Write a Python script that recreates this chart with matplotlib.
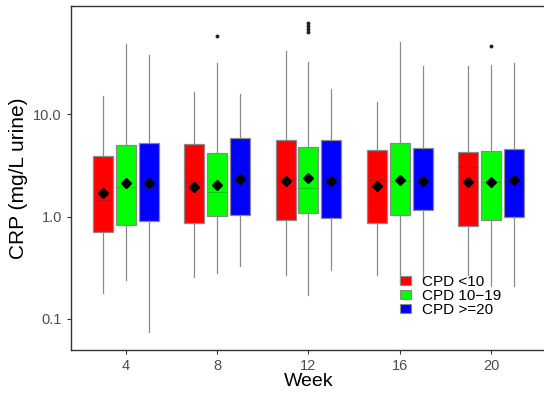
import matplotlib
matplotlib.use('agg')
import matplotlib.pyplot as plt
from matplotlib.patches import Patch
import matplotlib.ticker as mticker

plt.rcParams['font.family'] = ['Liberation Sans', 'DejaVu Sans']

weeks = ['4', '8', '12', '16', '20']
groups = ['CPD <10', 'CPD 10\u221219', 'CPD >=20']
colors = ['#ff0000', '#00ff00', '#0000ff']

# CPD <10
red_q1 = [0.71, 0.87, 0.93, 0.87, 0.81]
red_med = [1.45, 2.20, 2.32, 2.28, 3.04]
red_q3 = [3.95, 5.17, 5.58, 4.52, 4.26]
red_lo = [0.18, 0.26, 0.27, 0.27, 0.27]
red_hi = [15.0, 16.4, 41.4, 13.1, 29.7]
red_mean = [1.69, 1.94, 2.23, 1.98, 2.17]
red_out = [[], [], [], [], []]

# CPD 10-19
green_q1 = [0.82, 1.02, 1.08, 1.03, 0.93]
green_med = [1.94, 1.73, 1.92, 2.22, 2.17]
green_q3 = [5.02, 4.17, 4.80, 5.25, 4.39]
green_lo = [0.24, 0.28, 0.17, 0.22, 0.21]
green_hi = [48.4, 32.0, 32.5, 50.7, 30.2]
green_mean = [2.12, 2.02, 2.37, 2.30, 2.17]
green_out = [[], [58.8], [78.0, 73.0, 68.0, 63.5], [], [46.3]]

# CPD >=20
blue_q1 = [0.91, 1.04, 0.96, 1.16, 1.00]
blue_med = [1.90, 2.17, 2.28, 2.25, 2.28]
blue_q3 = [5.29, 5.84, 5.58, 4.73, 4.59]
blue_lo = [0.075, 0.33, 0.30, 0.25, 0.21]
blue_hi = [38.0, 15.9, 17.6, 29.7, 31.8]
blue_mean = [2.12, 2.32, 2.23, 2.25, 2.28]
blue_out = [[], [], [], [], []]

series = [
    (red_q1, red_med, red_q3, red_lo, red_hi, red_mean, red_out),
    (green_q1, green_med, green_q3, green_lo, green_hi, green_mean, green_out),
    (blue_q1, blue_med, blue_q3, blue_lo, blue_hi, blue_mean, blue_out),
]

fig = plt.figure(figsize=(5.44, 3.93), dpi=100)
ax = fig.add_axes([0.1305, 0.1087, 0.873, 0.8768])

offsets = [-0.25, 0.0, 0.25]
for k, (q1, med, q3, lo, hi, mean, out) in enumerate(series):
    stats = []
    for i in range(len(weeks)):
        stats.append(dict(q1=q1[i], med=med[i], q3=q3[i], whislo=lo[i],
                          whishi=hi[i], mean=mean[i], fliers=out[i]))
    pos = [i + 1 + offsets[k] for i in range(len(weeks))]
    ax.bxp(stats, positions=pos, widths=0.22, patch_artist=True,
           showmeans=True, showcaps=False,
           boxprops=dict(facecolor=colors[k], edgecolor='#8a8a8a', linewidth=0.9),
           whiskerprops=dict(color='#8a8a8a', linewidth=0.9),
           medianprops=dict(color='#333333', alpha=0.3, linewidth=0.6),
           meanprops=dict(marker='D', markerfacecolor='black',
                          markeredgecolor='black', markersize=5),
           flierprops=dict(marker='o', markerfacecolor='#222222',
                           markeredgecolor='#222222', markersize=1.8))

ax.set_yscale('log')
ax.set_ylim(0.0494, 115.5)
ax.set_xlim(0.4, 5.6)
ax.set_xticks(range(1, len(weeks) + 1))
ax.set_xticklabels(weeks)
ax.yaxis.set_major_locator(mticker.FixedLocator([0.1, 1.0, 10.0]))
ax.yaxis.set_minor_locator(mticker.NullLocator())
ax.set_yticklabels(['0.1', '1.0', '10.0'])

ax.tick_params(axis='both', colors='#333333', labelcolor='#4d4d4d',
               labelsize=10.5, length=3, width=0.8)
for s in ax.spines.values():
    s.set_color('#333333')
    s.set_linewidth(1.0)
ax.spines['right'].set_visible(False)

ax.set_xlabel('Week', fontsize=14, color='black', labelpad=0)
ax.set_ylabel('CRP (mg/L urine)', fontsize=15, color='black', labelpad=4)

handles = [Patch(facecolor=c, edgecolor='#8a8a8a', linewidth=0.8) for c in colors]
fig.legend(handles, groups, loc='upper left',
           bbox_to_anchor=(400 / 544, 1 - 275 / 393),
           frameon=False, fontsize=11, handlelength=0.7, handleheight=0.6,
           handletextpad=0.75, labelspacing=0.0, borderpad=0, borderaxespad=0)

plt.savefig('out.png', dpi=100)
plt.close(fig)
